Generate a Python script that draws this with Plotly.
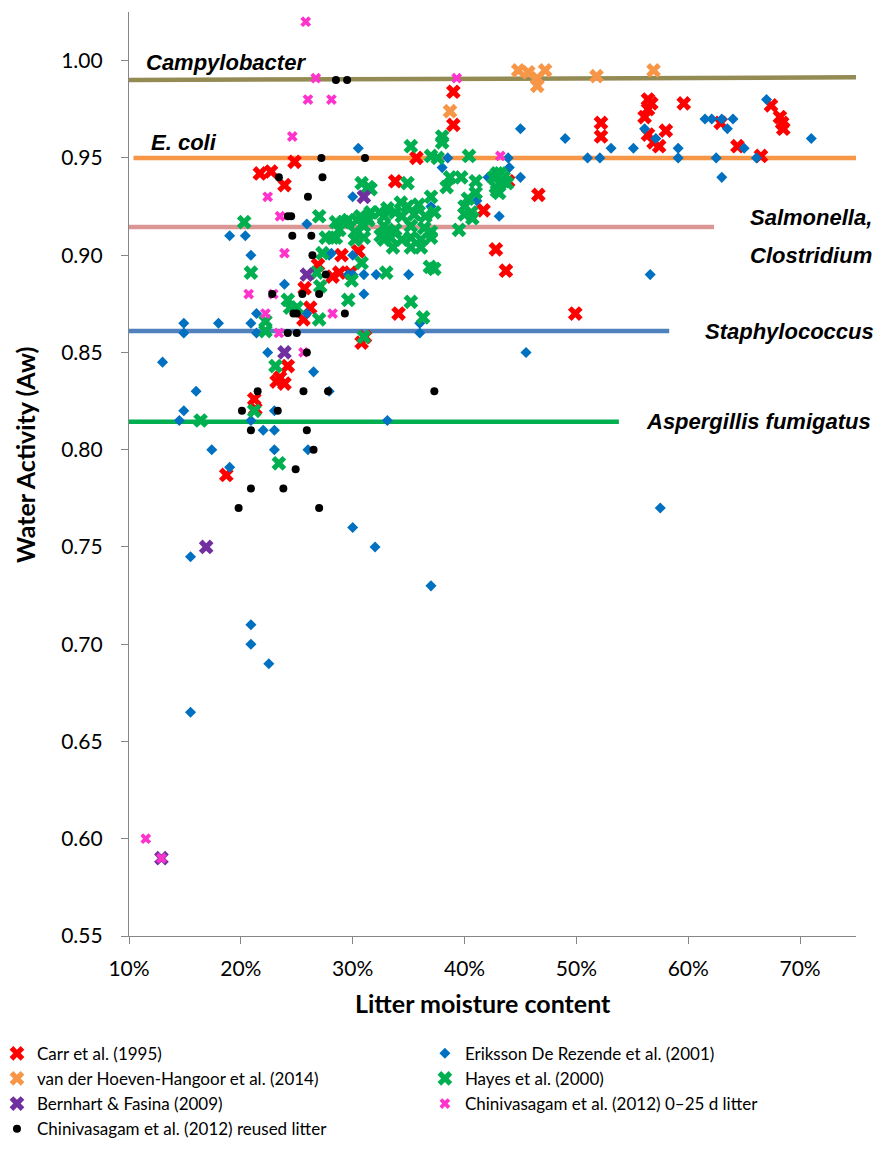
import plotly.graph_objects as go

# ---------------- data (litter moisture %, water activity) ----------------
carr_x = [21.7, 22.7, 23.9, 24.8, 26.9, 28.2, 25.7, 26.2, 25.6, 24.2, 23.5, 23.9, 23.2,
          21.2, 21.3, 18.7, 30.8, 31.1, 33.8, 35.7, 41.7, 42.8, 43.7, 29.0, 30.5, 28.8,
          29.8, 34.1, 39.0, 39.0, 43.9, 46.6, 52.2, 52.2, 56.4, 56.7, 56.4, 56.1, 56.4,
          56.9, 58.0, 57.4, 59.6, 62.9, 64.4, 66.5, 67.4, 68.2, 68.4, 68.5, 49.9]
carr_y = [0.942, 0.943, 0.936, 0.948, 0.895, 0.889, 0.883, 0.873, 0.867, 0.843, 0.837,
          0.834, 0.835, 0.826, 0.821, 0.787, 0.855, 0.858, 0.938, 0.950, 0.923, 0.903,
          0.892, 0.900, 0.902, 0.891, 0.891, 0.870, 0.984, 0.967, 0.938, 0.931, 0.968,
          0.961, 0.980, 0.978, 0.975, 0.971, 0.962, 0.958, 0.964, 0.956, 0.978, 0.968,
          0.956, 0.951, 0.977, 0.971, 0.968, 0.965, 0.870]

eriksson_x = [15.5, 15.5, 20.9, 20.9, 22.5, 30.0, 32.0, 37.0, 57.5, 14.9, 14.9, 13.0,
              16.0, 14.9, 14.5, 17.4, 19.0, 22.4, 26.5, 27.9, 23.0, 20.9, 22.0, 23.0,
              23.0, 26.0, 19.0, 20.4, 20.9, 23.9, 21.4, 20.9, 18.0, 25.9, 27.9, 25.9,
              30.5, 38.0, 38.5, 42.1, 30.0, 37.0, 43.1, 41.1, 30.0, 29.6, 30.0, 31.0,
              32.1, 35.0, 31.0, 36.0, 36.0, 28.1, 45.5, 56.6, 33.1, 45.0, 49.0, 53.1,
              51.0, 52.1, 55.1, 59.1, 59.1, 56.1, 57.1, 61.5, 62.1, 63.0, 64.0, 63.5,
              62.5, 63.0, 65.0, 66.1, 67.0, 71.0, 44.0, 45.0, 42.5, 43.9, 21.4]
eriksson_y = [0.745, 0.665, 0.710, 0.700, 0.690, 0.760, 0.750, 0.730, 0.770, 0.860,
              0.865, 0.845, 0.830, 0.820, 0.815, 0.800, 0.791, 0.850, 0.840, 0.830,
              0.820, 0.815, 0.810, 0.810, 0.800, 0.800, 0.910, 0.910, 0.900, 0.885,
              0.870, 0.865, 0.865, 0.916, 0.900, 0.870, 0.955, 0.945, 0.950, 0.940,
              0.930, 0.925, 0.920, 0.928, 0.900, 0.890, 0.890, 0.890, 0.890, 0.890,
              0.880, 0.865, 0.860, 0.901, 0.850, 0.890, 0.815, 0.965, 0.960, 0.955,
              0.950, 0.950, 0.955, 0.955, 0.950, 0.965, 0.960, 0.970, 0.970, 0.970,
              0.970, 0.965, 0.950, 0.940, 0.955, 0.950, 0.980, 0.960, 0.945, 0.940,
              0.940, 0.950, 0.860]

hoeven_x = [44.8, 45.7, 46.5, 46.5, 47.2, 51.8, 56.9, 38.7]
hoeven_y = [0.995, 0.994, 0.991, 0.987, 0.995, 0.992, 0.995, 0.974]

hayes_x = [35.2, 38.0, 37.0, 40.4, 30.8, 31.6, 34.9, 38.7, 39.7, 38.4, 41.0, 42.9, 43.5,
           43.8, 42.9, 41.0, 40.3, 37.0, 35.9, 34.3, 34.9, 33.8, 33.1, 32.4, 32.8, 31.6,
           31.3, 30.7, 30.4, 29.6, 29.2, 34.4, 35.5, 36.5, 37.3, 40.0, 40.6, 40.7, 40.0,
           39.5, 33.0, 33.8, 35.2, 36.4, 37.0, 32.8, 33.4, 34.4, 35.2, 36.1, 37.0, 35.2,
           36.1, 33.6, 31.4, 31.0, 28.5, 28.8, 28.2, 30.2, 31.0, 32.5, 32.8, 30.2, 30.8,
           33.0, 36.9, 37.3, 29.9, 29.6, 35.2, 36.3, 31.0, 38.0, 37.6, 31.4, 27.0, 20.3,
           27.6, 27.3, 20.9, 26.8, 27.1, 24.2, 24.4, 25.0, 27.0, 22.2, 22.2, 28.5, 23.1,
           21.2, 16.4, 23.4, 42.6, 43.2, 43.5, 42.8, 43.1]
hayes_y = [0.956, 0.958, 0.951, 0.951, 0.937, 0.934, 0.937, 0.940, 0.940, 0.935, 0.938,
           0.942, 0.940, 0.937, 0.933, 0.932, 0.929, 0.930, 0.926, 0.927, 0.925, 0.922,
           0.924, 0.922, 0.920, 0.922, 0.919, 0.920, 0.918, 0.918, 0.917, 0.920, 0.921,
           0.920, 0.922, 0.921, 0.922, 0.919, 0.925, 0.913, 0.912, 0.913, 0.915, 0.914,
           0.912, 0.908, 0.909, 0.908, 0.909, 0.908, 0.909, 0.904, 0.904, 0.904, 0.918,
           0.915, 0.917, 0.913, 0.909, 0.912, 0.909, 0.910, 0.915, 0.908, 0.896, 0.891,
           0.894, 0.893, 0.887, 0.877, 0.876, 0.868, 0.858, 0.961, 0.950, 0.935, 0.920,
           0.917, 0.909, 0.901, 0.891, 0.891, 0.884, 0.877, 0.873, 0.873, 0.867, 0.866,
           0.861, 0.909, 0.843, 0.820, 0.815, 0.793, 0.940, 0.942, 0.938, 0.935, 0.932]

bernhart_x = [16.9, 12.9, 25.9, 31.0, 23.9]
bernhart_y = [0.750, 0.590, 0.890, 0.930, 0.850]

chin_new_x = [25.8, 26.7, 26.0, 24.6, 22.4, 23.5, 23.9, 28.1, 39.3, 43.2, 20.7, 22.9,
              22.2, 28.2, 23.4, 25.6, 11.5, 12.9]
chin_new_y = [1.020, 0.991, 0.980, 0.961, 0.930, 0.920, 0.901, 0.980, 0.991, 0.951,
              0.880, 0.880, 0.870, 0.870, 0.860, 0.850, 0.600, 0.590]

chin_reused_x = [23.4, 26.0, 24.2, 24.5, 24.6, 26.3, 26.4, 28.5, 29.5, 27.2, 31.1, 27.3,
                 27.6, 22.8, 25.5, 27.0, 24.7, 25.0, 24.2, 25.0, 25.9, 21.5, 25.6, 27.8,
                 20.1, 23.3, 20.9, 25.9, 26.5, 24.9, 20.9, 23.8, 19.8, 27.0, 37.3, 29.3]
chin_reused_y = [0.940, 0.930, 0.920, 0.920, 0.910, 0.910, 0.900, 0.990, 0.990, 0.950,
                 0.950, 0.940, 0.890, 0.880, 0.880, 0.880, 0.870, 0.870, 0.860, 0.860,
                 0.850, 0.830, 0.830, 0.830, 0.820, 0.820, 0.810, 0.810, 0.800, 0.790,
                 0.780, 0.780, 0.770, 0.770, 0.830, 0.870]

# threshold lines (x extent, y values)
campy_x, campy_y = [10, 75], [0.990, 0.9914]
ecoli_x, ecoli_y = [10.4, 75], [0.950, 0.950]
salm_x, salm_y = [10, 62.3], [0.9145, 0.9145]
staph_x, staph_y = [10, 58.3], [0.861, 0.861]
asp_x, asp_y = [10, 53.8], [0.8143, 0.8143]

x_ticks = [10, 20, 30, 40, 50, 60, 70]
x_tick_labels = ["10%", "20%", "30%", "40%", "50%", "60%", "70%"]
y_ticks = [0.55, 0.60, 0.65, 0.70, 0.75, 0.80, 0.85, 0.90, 0.95, 1.00]

fig = go.Figure()

for lx, ly, col in [(campy_x, campy_y, "#948A54"), (ecoli_x, ecoli_y, "#F79646"),
                    (salm_x, salm_y, "#D99694"), (staph_x, staph_y, "#4F81BD"),
                    (asp_x, asp_y, "#00B050")]:
    fig.add_trace(go.Scatter(x=lx, y=ly, mode="lines", line=dict(color=col, width=4.5),
                             showlegend=False, hoverinfo="skip"))

series = [
    ("Carr et al. (1995)", carr_x, carr_y, "x", "#FF0000", 13, "legend"),
    ("Eriksson De Rezende et al. (2001)", eriksson_x, eriksson_y, "diamond", "#0070C0", 8.5, "legend2"),
    ("van der Hoeven-Hangoor et al. (2014)", hoeven_x, hoeven_y, "x", "#F79646", 13, "legend"),
    ("Hayes et al. (2000)", hayes_x, hayes_y, "x", "#00B050", 13, "legend2"),
    ("Bernhart &amp; Fasina (2009)", bernhart_x, bernhart_y, "x", "#7030A0", 13, "legend"),
    ("Chinivasagam et al. (2012) 0–25 d litter", chin_new_x, chin_new_y, "x", "#FF33CC", 9.5, "legend2"),
    ("Chinivasagam et al. (2012) reused litter", chin_reused_x, chin_reused_y, "circle", "#000000", 8, "legend"),
]
for name, sx, sy, sym, col, size, lg in series:
    fig.add_trace(go.Scatter(x=sx, y=sy, mode="markers", name=name, legend=lg,
                             marker=dict(symbol=sym, color=col, size=size,
                                         line=dict(width=0))))

ann_font = dict(family="Liberation Sans, Arial, sans-serif", size=22, color="#000000")
labels = [
    ("Campylobacter", 11.34, 0.9991),
    ("E. coli", 11.79, 0.9577),
    ("Salmonella,", 65.37, 0.9196),
    ("Clostridium", 65.37, 0.9000),
    ("Staphylococcus", 61.34, 0.8609),
    ("Aspergillis fumigatus", 56.06, 0.8143),
]
for txt, ax, ay in labels:
    fig.add_annotation(x=ax, y=ay, xref="x", yref="y", text=f"<b><i>{txt}</i></b>",
                       showarrow=False, xanchor="left", yanchor="middle", font=ann_font)

title_font = dict(family="Lato, sans-serif", size=25, color="#000000")
fig.add_annotation(x=0.487, y=-0.0725, xref="paper", yref="paper",
                   text="<b>Litter moisture content</b>", showarrow=False,
                   xanchor="center", yanchor="middle", font=title_font)
fig.add_annotation(x=-0.143, y=0.5206, xref="paper", yref="paper",
                   text="<b>Water Activity (Aw)</b>", showarrow=False, textangle=-90,
                   xanchor="center", yanchor="middle", font=title_font)

axis_col = "#868686"
tick_font = dict(family="Lato, sans-serif", size=21, color="#000000")
leg_font = dict(family="Lato, sans-serif", size=17, color="#000000")
fig.update_layout(
    width=881, height=1154,
    margin=dict(l=129, r=25, t=12, b=218, autoexpand=False),
    paper_bgcolor="white", plot_bgcolor="white",
    xaxis=dict(range=[10, 75], tickvals=x_ticks, ticktext=x_tick_labels,
               showgrid=False, zeroline=False, showline=True, linecolor=axis_col,
               linewidth=1.3, ticks="outside", ticklen=7, tickcolor=axis_col,
               tickfont=tick_font, automargin=False, ticklabelstandoff=7),
    yaxis=dict(range=[0.55, 1.025], tickvals=y_ticks, tickformat=".2f",
               showgrid=False, zeroline=False, showline=True, linecolor=axis_col,
               linewidth=1.3, ticks="outside", ticklen=7, tickcolor=axis_col,
               tickfont=tick_font, automargin=False, ticklabelstandoff=14),
    legend=dict(x=-0.1816, y=-0.108, xanchor="left", yanchor="top", font=leg_font,
                bgcolor="rgba(0,0,0,0)", tracegroupgap=0, itemwidth=30),
    legend2=dict(x=0.407, y=-0.108, xanchor="left", yanchor="top", font=leg_font,
                 bgcolor="rgba(0,0,0,0)", tracegroupgap=0, itemwidth=30),
)

fig.write_html("out.html", config={"displayModeBar": False},
               post_script="document.body.style.margin='0';document.body.style.overflow='hidden';")
